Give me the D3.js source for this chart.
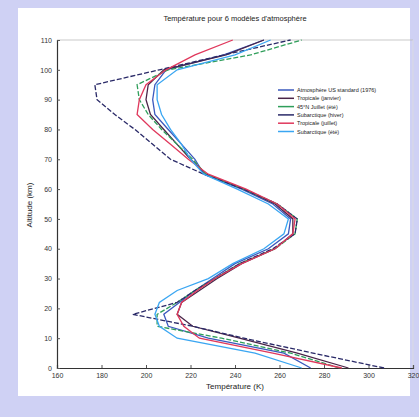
<!DOCTYPE html>
<html><head><meta charset="utf-8">
<script src="https://cdn.jsdelivr.net/npm/d3@7"></script>
<style>html,body{margin:0;padding:0;background:#cfd1f4;}svg{display:block;}</style>
</head><body>
<svg id="c" width="419" height="417"></svg>
<script>
const title = "Température pour 6 modèles d'atmosphère";
const xLabel = "Température (K)";
const yLabel = "Altitude (km)";
const xTicks = [160, 180, 200, 220, 240, 260, 280, 300, 320];
const yTicks = [0, 10, 20, 30, 40, 50, 60, 70, 80, 90, 100, 110];
const altitudes = [0, 5, 10, 14, 18, 22, 26, 30, 35, 40, 45, 50, 55, 60, 65, 70, 75, 80, 85, 90, 95, 100, 105, 110];
const seriesNames = ["Atmosphère US standard (1976)", "Tropicale (janvier)", "45°N Juillet (été)", "Subarctique (hiver)", "Tropicale (juillet)", "Subarctique (été)"];
const tBlue     = [274, 262, 228, 210, 208, 215, 222, 230, 240, 255, 264, 265, 257, 243, 226, 222, 216, 210, 204, 203, 204, 209, 235, 253];
const tDark     = [291, 268, 242, 221, 214, 216, 224, 232, 243, 258, 266, 266, 258, 244, 227, 220, 214, 208, 202, 200, 201, 208, 236, 253];
const tGreen    = [287, 265, 234, 205, 205, 214, 222, 231, 242, 258, 267, 268, 259, 244, 227, 221, 214, 207, 201, 197, 196, 210, 247, 270];
const tNavy     = [307, 275, 244, 221, 194, 214, 222, 231, 242, 257, 267, 268, 259, 244, 226, 211, 203, 195, 186, 178, 177, 206, 235, 265];
const tRed      = [288, 257, 224, 217, 214, 216, 223, 231, 243, 258, 266, 267, 259, 245, 228, 219, 211, 203, 196, 197, 200, 209, 222, 239];
const tLight    = [270, 249, 214, 206, 204, 206, 214, 228, 239, 253, 262, 264, 255, 241, 226, 220, 216, 211, 207, 205, 205, 214, 240, 256];
const seriesTemps = [tBlue, tDark, tGreen, tNavy, tRed, tLight];
const seriesColors = ["#3a58bd", "#4a2448", "#2f9e5a", "#2a2a68", "#e0385c", "#3aa6f2"];
const seriesDash = [null, null, "5,2", "5,2", null, null];

const svg = d3.select("#c");
svg.append("rect").attr("x", 18).attr("y", 8).attr("width", 392).attr("height", 388).attr("fill", "#ffffff");

const x = d3.scaleLinear().domain([160, 320]).range([57, 413]);
const y = d3.scaleLinear().domain([0, 110]).range([368, 40]);

// frame
svg.append("line").attr("x1", 57).attr("x2", 413).attr("y1", 40).attr("y2", 40).attr("stroke", "#bbb").attr("stroke-width", 0.8);
svg.append("line").attr("x1", 413).attr("x2", 413).attr("y1", 40).attr("y2", 368).attr("stroke", "#ddd").attr("stroke-width", 0.8);

const xAxis = d3.axisBottom(x).tickValues(xTicks).tickSize(-3).tickPadding(5).tickFormat(d3.format("d"));
const gx = svg.append("g").attr("transform", "translate(0,368)").call(xAxis);
const yAxis = d3.axisLeft(y).tickValues(yTicks).tickSize(-3).tickPadding(5).tickFormat(d3.format("d"));
const gy = svg.append("g").attr("transform", "translate(57,0)").call(yAxis);
[gx, gy].forEach(g => {
  g.select(".domain").attr("stroke", "#333").attr("stroke-width", 1.2);
  g.selectAll(".tick line").attr("stroke", "#555");
  g.selectAll("text").attr("font-family", "Liberation Sans, Arial, sans-serif").attr("font-size", 7).attr("fill", "#333");
});

const line = d3.line().x(d => x(d[1])).y(d => y(d[0])).curve(d3.curveLinear);
seriesTemps.forEach((temps, i) => {
  const pts = altitudes.map((a, j) => [a, temps[j]]);
  svg.append("path").datum(pts).attr("d", line)
    .attr("fill", "none").attr("stroke", seriesColors[i]).attr("stroke-width", 1.3)
    .attr("stroke-dasharray", seriesDash[i]);
});

// legend
const lg = svg.append("g").attr("transform", "translate(278,90)");
seriesNames.forEach((n, i) => {
  const yy = i * 8.3;
  lg.append("line").attr("x1", 0).attr("x2", 16).attr("y1", yy).attr("y2", yy)
    .attr("stroke", seriesColors[i]).attr("stroke-width", 1.5);
  lg.append("text").attr("x", 19).attr("y", yy + 2).text(n)
    .attr("font-family", "Liberation Sans, Arial, sans-serif").attr("font-size", 5.5).attr("fill", "#222");
});

svg.append("text").attr("x", 235).attr("y", 21).attr("text-anchor", "middle").text(title)
  .attr("font-family", "Liberation Sans, Arial, sans-serif").attr("font-size", 7.5).attr("fill", "#222");
svg.append("text").attr("x", 235).attr("y", 389).attr("text-anchor", "middle").text(xLabel)
  .attr("font-family", "Liberation Sans, Arial, sans-serif").attr("font-size", 8).attr("fill", "#222");
svg.append("text").attr("transform", "translate(32,205) rotate(-90)").attr("text-anchor", "middle").text(yLabel)
  .attr("font-family", "Liberation Sans, Arial, sans-serif").attr("font-size", 8).attr("fill", "#222");
</script>
</body></html>
